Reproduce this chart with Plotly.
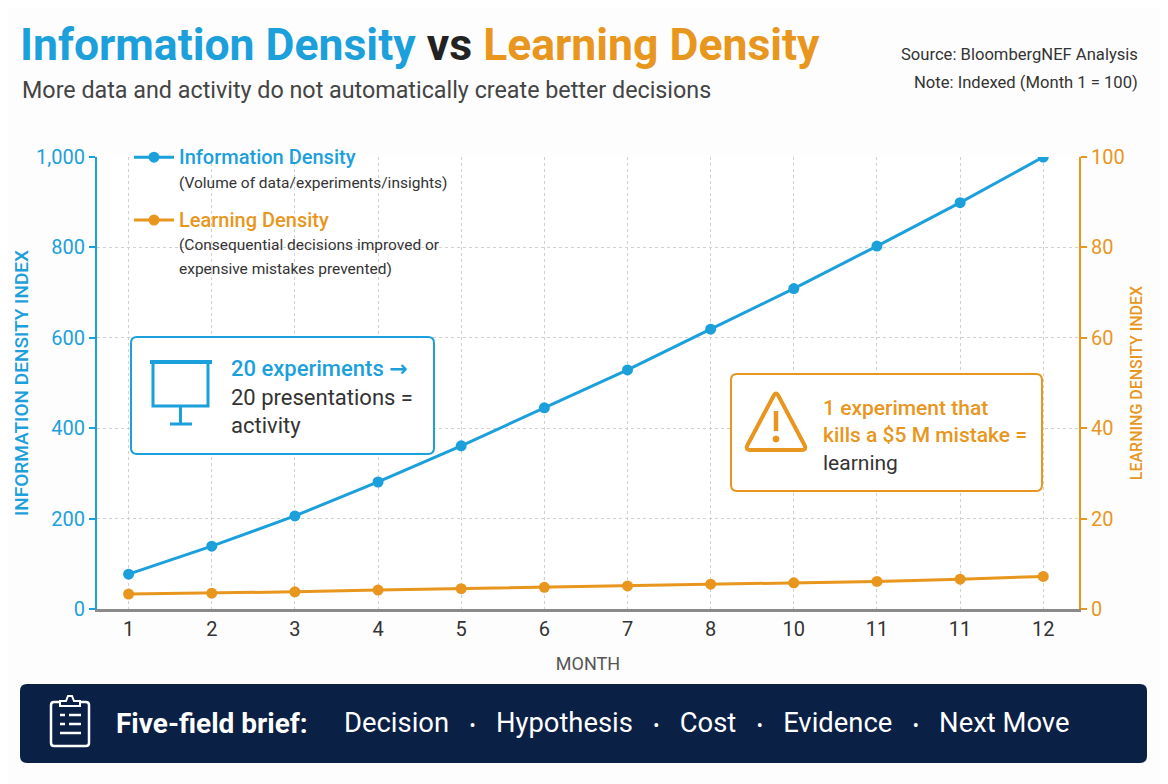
import plotly.graph_objects as go

# data
month_labels = ["1", "2", "3", "4", "5", "6", "7", "8", "10", "11", "11", "12"]
info_density = [77, 139, 206, 281, 361, 445, 529, 619, 709, 803, 899, 1000]
learning_density = [3.3, 3.5, 3.8, 4.2, 4.5, 4.8, 5.1, 5.5, 5.8, 6.1, 6.6, 7.2]
brief_fields = ["Decision", "Hypothesis", "Cost", "Evidence", "Next Move"]

BLUE = "#1ba0dc"
ORANGE = "#e8961d"
DARK = "#333333"
NAVY = "#0b2045"
FONT = "Roboto"

# the page adds an 8px body margin, so the figure is made smaller and every
# pixel position (taken from the 1168x784 reference) is shifted by OFF
OFF = 8
W, H = 1168 - OFF, 784 - OFF
L, R, T, B = 97, 1079, 157, 609          # plot area in reference pixels


def px(x):
    return (x - L) / (R - L)


def py(y):
    return (B - y) / (B - T)


def rounded_box(x0, y0, x1, y1, r):
    # rounded rectangle path, pixel coords -> paper coords
    pts = [
        f"M{px(x0 + r)},{py(y0)}", f"L{px(x1 - r)},{py(y0)}",
        f"Q{px(x1)},{py(y0)} {px(x1)},{py(y0 + r)}", f"L{px(x1)},{py(y1 - r)}",
        f"Q{px(x1)},{py(y1)} {px(x1 - r)},{py(y1)}", f"L{px(x0 + r)},{py(y1)}",
        f"Q{px(x0)},{py(y1)} {px(x0)},{py(y1 - r)}", f"L{px(x0)},{py(y0 + r)}",
        f"Q{px(x0)},{py(y0)} {px(x0 + r)},{py(y0)}", "Z",
    ]
    return " ".join(pts)


pos = list(range(1, len(month_labels) + 1))

fig = go.Figure()
fig.add_trace(go.Scatter(
    x=pos, y=info_density, mode="lines+markers", legendgroup="info",
    name=f"<span style='color:{BLUE};font-size:20px;font-weight:500'>Information Density</span><br>"
         "<span style='font-size:15.5px'>(Volume of data/experiments/insights)</span>",
    line=dict(color=BLUE, width=3), marker=dict(size=11, color=BLUE)))
fig.add_trace(go.Scatter(
    x=pos, y=learning_density, mode="lines+markers", yaxis="y2", legendgroup="learn",
    name=f"<span style='color:{ORANGE};font-size:20px;font-weight:500'>Learning Density</span><br>"
         "<span style='font-size:15.5px'>(Consequential decisions improved or</span><br>"
         "<span style='font-size:15.5px'>expensive mistakes prevented)</span>",
    line=dict(color=ORANGE, width=3), marker=dict(size=11, color=ORANGE)))

shapes = []
# blue callout box + presentation board icon
shapes.append(dict(type="path", path=rounded_box(131, 337, 434, 454, 6), xref="paper", yref="paper",
                   line=dict(color=BLUE, width=2), fillcolor="white", layer="above"))
shapes.append(dict(type="line", xref="paper", yref="paper", x0=px(150), x1=px(212), y0=py(362), y1=py(362),
                   line=dict(color=BLUE, width=4)))
shapes.append(dict(type="rect", xref="paper", yref="paper", x0=px(153), x1=px(208), y0=py(362), y1=py(406),
                   line=dict(color=BLUE, width=3)))
shapes.append(dict(type="line", xref="paper", yref="paper", x0=px(180.5), x1=px(180.5), y0=py(406), y1=py(424),
                   line=dict(color=BLUE, width=3)))
shapes.append(dict(type="line", xref="paper", yref="paper", x0=px(170), x1=px(192), y0=py(424), y1=py(424),
                   line=dict(color=BLUE, width=3)))
# orange callout box + warning icon
shapes.append(dict(type="path", path=rounded_box(731, 374, 1042, 491, 6), xref="paper", yref="paper",
                   line=dict(color=ORANGE, width=2), fillcolor="white", layer="above"))
shapes.append(dict(type="path", xref="paper", yref="paper",
                   path=f"M{px(774)},{py(395)} Q{px(776)},{py(392)} {px(778)},{py(395)} "
                        f"L{px(805)},{py(446)} Q{px(806)},{py(450)} {px(802)},{py(450)} "
                        f"L{px(750)},{py(450)} Q{px(746)},{py(450)} {px(747)},{py(446)} Z",
                   line=dict(color=ORANGE, width=4)))
shapes.append(dict(type="line", xref="paper", yref="paper", x0=px(776), x1=px(776), y0=py(411), y1=py(431),
                   line=dict(color=ORANGE, width=4.5)))
shapes.append(dict(type="circle", xref="paper", yref="paper", x0=px(773), x1=px(779), y0=py(436), y1=py(442),
                   line=dict(color=ORANGE, width=1), fillcolor=ORANGE))
# bottom banner + clipboard icon
shapes.append(dict(type="path", path=rounded_box(20, 684, 1147, 763, 7), xref="paper", yref="paper",
                   line=dict(width=0), fillcolor=NAVY, layer="above"))
shapes.append(dict(type="path", path=rounded_box(51, 702, 89, 746, 3), xref="paper", yref="paper",
                   line=dict(color="white", width=2.5), layer="above"))
shapes.append(dict(type="path", xref="paper", yref="paper", layer="above",
                   path=f"M{px(60)},{py(706)} L{px(60)},{py(701)} L{px(66)},{py(701)} L{px(68)},{py(696)} "
                        f"L{px(72)},{py(696)} L{px(74)},{py(701)} L{px(80)},{py(701)} L{px(80)},{py(706)} Z",
                   line=dict(color="white", width=2), fillcolor=NAVY))
for y0, xa, xb in [(715, 60, 65), (724, 60, 65)]:
    shapes.append(dict(type="line", xref="paper", yref="paper", x0=px(xa), x1=px(xb), y0=py(y0), y1=py(y0),
                       line=dict(color="white", width=2.5), layer="above"))
for y0, xa, xb in [(715, 69, 81), (724, 69, 81), (733, 60, 81)]:
    shapes.append(dict(type="line", xref="paper", yref="paper", x0=px(xa), x1=px(xb), y0=py(y0), y1=py(y0),
                       line=dict(color="white", width=2.5), layer="above"))

sep = "\u00a0\u00a0\u00a0<span style='font-size:18px'>•</span>\u00a0\u00a0\u00a0"
annotations = [
    dict(x=px(20), y=py(90), xref="paper", yref="paper", xanchor="left", yanchor="middle",
         text="More data and activity do not automatically create better decisions",
         font=dict(size=23.3, color="#444444"), showarrow=False),
    dict(x=px(1140), y=py(55), xref="paper", yref="paper", xanchor="right", yanchor="middle",
         text="Source: BloombergNEF Analysis", font=dict(size=16.6, color=DARK), showarrow=False),
    dict(x=px(1140), y=py(82), xref="paper", yref="paper", xanchor="right", yanchor="middle",
         text="Note: Indexed (Month 1 = 100)", font=dict(size=16.6, color=DARK), showarrow=False),
    dict(x=px(229), y=py(397), xref="paper", yref="paper", xanchor="left", yanchor="middle", align="left",
         text=f"<span style='color:{BLUE};font-weight:500'>20 experiments "
              "<span style='font-family:DejaVu Sans;font-weight:bold'>→</span></span><br>20 presentations =<br>activity",
         font=dict(size=22, color=DARK), showarrow=False),
    dict(x=px(821), y=py(435), xref="paper", yref="paper", xanchor="left", yanchor="middle", align="left",
         text=f"<span style='color:{ORANGE};font-weight:500'>1 experiment that<br>kills a $5 M mistake =</span><br>learning",
         font=dict(size=21, color=DARK), showarrow=False),
    dict(x=px(114), y=py(723), xref="paper", yref="paper", xanchor="left", yanchor="middle",
         text="<b>Five-field brief:</b>", font=dict(size=28, color="white"), showarrow=False),
    dict(x=px(342), y=py(723), xref="paper", yref="paper", xanchor="left", yanchor="middle",
         text=sep.join(brief_fields), font=dict(size=27.4, color="white"), showarrow=False),
]

fig.update_layout(
    width=W, height=H,
    margin=dict(l=L - OFF, r=1168 - R, t=T - OFF, b=784 - B),
    paper_bgcolor="#fdfdfd", plot_bgcolor="white",
    font=dict(family=FONT, color=DARK),
    title=dict(
        text=f"<span style='color:{BLUE}'>Information Density</span> <span style='color:#222'>vs</span> "
             f"<span style='color:{ORANGE}'>Learning Density</span>",
        x=(20 - OFF) / W, xanchor="left", y=1 - (44 - OFF) / H, yanchor="middle",
        font=dict(size=44.5, family=FONT, weight="bold")),
    xaxis=dict(range=[0.62, 12.43], tickvals=pos, ticktext=month_labels, showgrid=True,
               gridcolor="#d0d0d0", griddash="dot", gridwidth=1, zeroline=False,
               showline=True, linecolor="#8a8a8a", linewidth=2.5, ticks="",
               tickfont=dict(size=20, color=DARK),
               title=dict(text="MONTH", font=dict(size=18, color="#555555"), standoff=18)),
    yaxis=dict(range=[0, 1000], dtick=200, tickformat=",", showgrid=True, gridcolor="#d0d0d0",
               griddash="dot", zeroline=False, showline=True, linecolor=BLUE, linewidth=2,
               ticks="outside", ticklen=6, tickcolor=BLUE, tickwidth=1.5,
               tickfont=dict(size=20, color=BLUE),
               title=dict(text="INFORMATION DENSITY INDEX", font=dict(size=19, color=BLUE, weight=500), standoff=2)),
    yaxis2=dict(range=[0, 100], dtick=20, overlaying="y", side="right", showgrid=False, zeroline=False,
                showline=True, linecolor=ORANGE, linewidth=2, ticks="outside", ticklen=6,
                tickcolor=ORANGE, tickwidth=1.5, tickfont=dict(size=20, color=ORANGE),
                title=dict(text="LEARNING DENSITY INDEX", font=dict(size=16, color=ORANGE, weight=500), standoff=7)),
    legend=dict(x=px(129), y=py(139), xanchor="left", yanchor="top", bgcolor="rgba(0,0,0,0)",
                valign="top", traceorder="grouped", tracegroupgap=13, itemwidth=40,
                font=dict(size=18, color=DARK)),
    shapes=shapes, annotations=annotations,
)

fig.write_html("out.html")
